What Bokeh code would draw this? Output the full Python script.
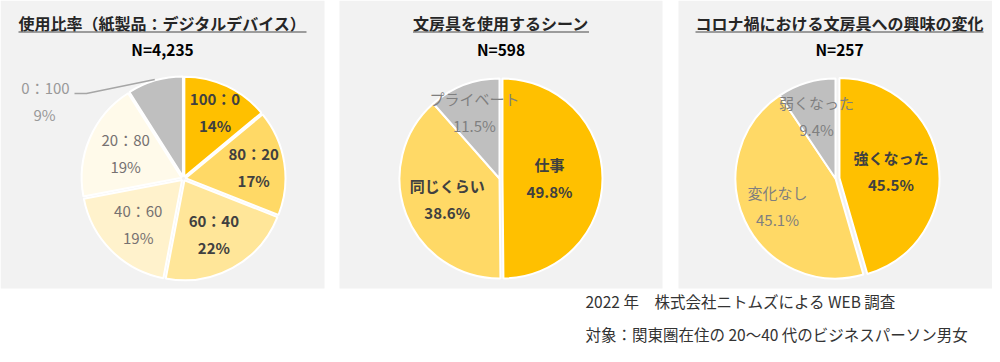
import math
from bokeh.plotting import figure
from bokeh.models import Range1d
from bokeh.core.properties import value
from bokeh.embed import file_html
from bokeh.resources import INLINE

# ---------------- data ----------------
titles = ["使用比率（紙製品：デジタルデバイス）", "文房具を使用するシーン", "コロナ禍における文房具への興味の変化"]
sample_sizes = ["N=4,235", "N=598", "N=257"]

ratio_labels = ["100：0", "80：20", "60：40", "40：60", "20：80", "0：100"]
ratio_values = [14, 17, 22, 19, 19, 9]

scene_labels = ["仕事", "同じくらい", "プライベート"]
scene_values = [49.8, 38.6, 11.5]

interest_labels = ["強くなった", "変化なし", "弱くなった"]
interest_values = [45.5, 45.1, 9.4]

footnotes = ["2022 年　株式会社ニトムズによる WEB 調査",
             "対象：関東圏在住の 20～40 代のビジネスパーソン男女"]

# ---------------- style / layout ----------------
FONT = "Noto Sans CJK JP"
PANEL_BG = "#F2F2F2"
W, H = 992, 354          # figure size (page has an 8px margin)


def Y(y):                # reference pixel y (down) -> data y (up)
    return 362 - y


charts = [
    dict(labels=ratio_labels, values=ratio_values, fmt="{:.0f}%",
         panel=(0, 324), center=(183, 178), n_chars=18,
         colors=["#FFC000", "#FFD966", "#FFE699", "#FFF2CC", "#FFFAEA", "#BFBFBF"],
         tcolors=["#404040", "#404040", "#404040", "#767171", "#767171", "#999999"],
         bold=[True, True, True, False, False, False],
         rfrac=[0.74, 0.71, 0.63, 0.64, 0.63, None],
         explode=[2, 2, 2, 2, 2, 2]),
    dict(labels=scene_labels, values=scene_values, fmt="{:.1f}%",
         panel=(339, 662), center=(499, 178), n_chars=11,
         colors=["#FFC000", "#FFD966", "#BFBFBF"],
         tcolors=["#404040", "#404040", "#7F7F7F"],
         bold=[True, True, False],
         rfrac=[0.50, 0.56, 0.71],
         explode=[3, 0, 0]),
    dict(labels=interest_labels, values=interest_values, fmt="{:.1f}%",
         panel=(678, 1000), center=(835, 178), n_chars=18,
         colors=["#FFC000", "#FFD966", "#BFBFBF"],
         tcolors=["#404040", "#7F7F7F", "#7F7F7F"],
         bold=[True, False, False],
         rfrac=[0.56, 0.64, 0.65],
         explode=[4, 0, 0]),
]
R = 100

p = figure(width=W, height=H, x_range=Range1d(0, W), y_range=Range1d(362 - H, 362),
           output_backend="svg", toolbar_location=None, min_border=0)
p.axis.visible = False
p.grid.visible = False
p.outline_line_color = None
p.background_fill_color = "white"
p.border_fill_color = "white"


def txt(x, y, s, size="15px", color="#404040", bold=False, align="center"):
    p.text(x=[x], y=[Y(y)], text=[s], text_font=value(FONT), text_font_size=value(size),
           text_color=color, text_align=align, text_baseline="middle",
           text_font_style="bold" if bold else "normal")


for ci, c in enumerate(charts):
    l, r = c["panel"]
    p.quad(left=[l], right=[r], top=[Y(0)], bottom=[Y(288)], fill_color=PANEL_BG, line_color=None)
    pc = (l + r) / 2
    # title + underline + N
    txt(pc, 22, titles[ci], size="16px", color="#262626", bold=True)
    half = c["n_chars"] * 16 / 2
    p.line(x=[pc - half, pc + half], y=[Y(31.5), Y(31.5)], line_color="#7F7F7F", line_width=1.5)
    txt(pc, 48, sample_sizes[ci], size="15.5px", color="#000000", bold=True)

    cx, cy = c["center"]
    total = sum(c["values"])
    cum = 0.0
    for i, v in enumerate(c["values"]):
        f0 = cum / total
        f1 = (cum + v) / total
        cum += v
        fm = (f0 + f1) / 2
        th = math.pi / 2 - 2 * math.pi * fm
        ex = c["explode"][i]
        x0 = cx + ex * math.cos(th)
        y0 = Y(cy) + ex * math.sin(th)
        p.wedge(x=[x0], y=[y0], radius=R, radius_units="screen",
                start_angle=math.pi / 2 - 2 * math.pi * f1,
                end_angle=math.pi / 2 - 2 * math.pi * f0,
                direction="anticlock", fill_color=c["colors"][i],
                line_color="white", line_width=2)
        pct = c["fmt"].format(v)
        rf = c["rfrac"][i]
        if rf is None:
            # outside label with leader line to the slice's outer mid point
            lx, ly = 45, 87
            txt(lx, ly, c["labels"][i], color=c["tcolors"][i])
            txt(lx - 1, ly + 27, pct, color=c["tcolors"][i])
            ex_x = x0 + (R + 1) * math.cos(th)
            ex_y = y0 + (R + 1) * math.sin(th)
            p.line(x=[74, 86, ex_x], y=[Y(93), Y(93), ex_y], line_color="#A6A6A6", line_width=1.5)
        else:
            lx = cx + rf * R * math.cos(th)
            ly = cy - rf * R * math.sin(th)
            txt(lx, ly - 13.5, c["labels"][i], color=c["tcolors"][i], bold=c["bold"][i])
            txt(lx, ly + 13.5, pct, color=c["tcolors"][i], bold=c["bold"][i])

txt(585, 300, footnotes[0], size="15.5px", color="#333333", align="left")
txt(585, 333, footnotes[1], size="15.5px", color="#333333", align="left")

open("out.html", "w").write(file_html(p, INLINE))
